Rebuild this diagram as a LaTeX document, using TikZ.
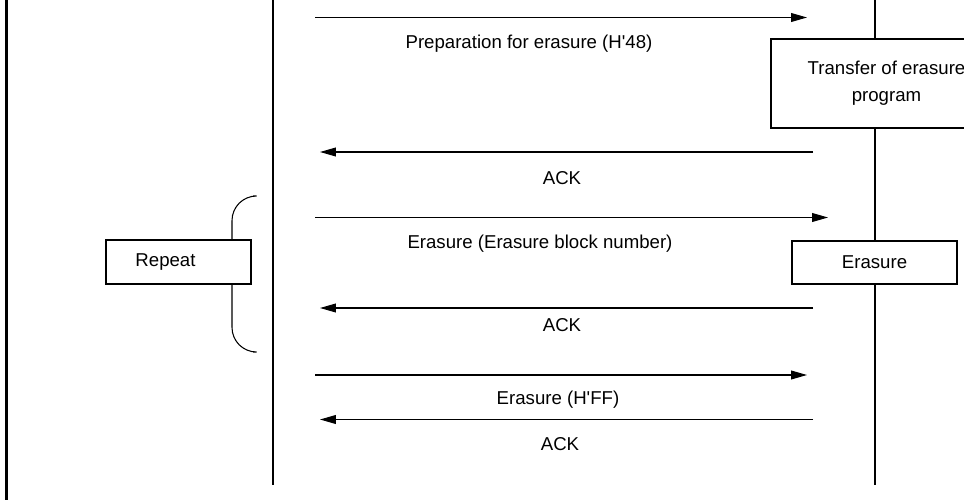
\documentclass[tikz,border=0pt]{standalone}
\usepackage{fontspec}
\setmainfont{Liberation Sans}[Ligatures=TeXOff]
\usetikzlibrary{arrows.meta}

\tikzset{
  msg/.style={-{Triangle[length=9pt,width=5pt]}, line width=0.6pt},
  life/.style={line width=0.6pt},
  procbox/.style={draw, fill=white, line width=1.2pt, inner sep=0pt},
  lbl/.style={font=\fontsize{10.6}{15.4}\selectfont, inner sep=0pt}
}

\begin{document}
\begin{tikzpicture}[x=0.02cm, y=-0.02cm]
        \useasboundingbox (0,0) rectangle (964,500);
        \clip (0,0) rectangle (964,500);

        % frame line and the two lifelines
        \draw[line width=1.2pt] (6.5,0) -- (6.5,500);
        \coordinate (host top) at (273,0);
        \coordinate (host bot) at (273,485);
        \coordinate (dev top) at (875,0);
        \coordinate (dev bot) at (875,485);
        \draw[life] (host top) -- (host bot);
        \draw[life] (dev top) -- (dev bot);

        % repeat brace
        \draw[life, rounded corners=14pt] (253,196) -- (232,196) -- (232,352) -- (253,352);
        \node[procbox, minimum width=2.9cm, minimum height=0.88cm] (repeat) at (178.5,262) {};
        \node[lbl] (repeat text) at (165.5,262) {Repeat};

        % boxes on the device side
        \node[procbox, lbl, minimum width=4.62cm, minimum height=1.78cm, align=center] (transfer) at (886.5,83.5) {Transfer of erasure\\program};
        \node[procbox, lbl, minimum width=3.3cm, minimum height=0.86cm] (erase) at (874.5,262.5) {Erasure};

        % message ends
        \coordinate (m1a) at (315,17.5);  \coordinate (m1b) at (807,17.5);
        \coordinate (m2a) at (813,152);   \coordinate (m2b) at (320,152);
        \coordinate (m3a) at (315,217.5); \coordinate (m3b) at (828,217.5);
        \coordinate (m4a) at (813,308);   \coordinate (m4b) at (320,308);
        \coordinate (m5a) at (315,375);   \coordinate (m5b) at (807,375);
        \coordinate (m6a) at (813,419.5); \coordinate (m6b) at (320,419.5);

        \draw[msg] (m1a) -- (m1b);
        \draw[msg] (m2a) -- (m2b);
        \draw[msg] (m3a) -- (m3b);
        \draw[msg] (m4a) -- (m4b);
        \draw[msg] (m5a) -- (m5b);
        \draw[msg] (m6a) -- (m6b);

        \node[lbl] (prep) at (529,44) {Preparation for erasure (H'48)};
        \node[lbl] (ack1) at (562,178.5) {ACK};
        \node[lbl] (eblk) at (540,244) {Erasure (Erasure block number)};
        \node[lbl] (ack2) at (562,325) {ACK};
        \node[lbl] (eff) at (558,400) {Erasure (H'FF)};
        \node[lbl] (ack3) at (560,444.5) {ACK};
      \end{tikzpicture}
\end{document}
